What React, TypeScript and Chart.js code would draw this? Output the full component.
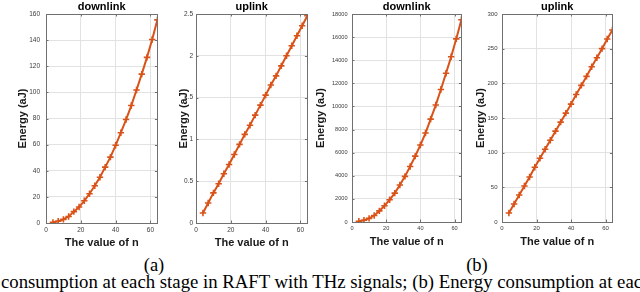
import React, { useEffect, useRef } from "react";
import { Chart, registerables } from "chart.js";

Chart.register(...registerables);

// ---- data ----
const nValues = [4, 7, 10, 13, 16, 19, 22, 25, 28, 31, 34, 37, 40, 43, 46, 49, 52, 55, 58, 61, 64];
const downlinkA = [0.5, 1.3, 2.8, 5, 8.7, 12.2, 17, 22.4, 28.5, 35, 42.8, 50.4, 59.5, 69.1, 79.2, 89.9, 101.8, 114, 126.8, 140.5, 155.5];
const uplinkA = [0.12, 0.24, 0.36, 0.47, 0.59, 0.7, 0.82, 0.94, 1.06, 1.17, 1.29, 1.41, 1.53, 1.65, 1.76, 1.88, 2.0, 2.12, 2.24, 2.36, 2.48];
const downlinkB = [60, 150, 310, 560, 960, 1400, 1920, 2500, 3200, 3950, 4800, 5700, 6660, 7700, 8900, 10120, 11470, 12870, 14300, 15850, 17500];
const uplinkB = [13, 26, 39, 52, 65, 79, 92, 105, 118, 131, 144, 157, 170, 184, 197, 210, 224, 237, 250, 264, 277];

const xTicks = [0, 20, 40, 60];
const yTicksDownA = [0, 20, 40, 60, 80, 100, 120, 140, 160];
const yTicksUpA = [0, 0.5, 1, 1.5, 2, 2.5];
const yTicksDownB = [0, 2000, 4000, 6000, 8000, 10000, 12000, 14000, 16000, 18000];
const yTicksUpB = [0, 50, 100, 150, 200, 250, 300];

const panelTitles = ["downlink", "uplink", "downlink", "uplink"];
const xTitle = "The value of n";
const yTitle = "Energy (aJ)";
const subLabels = ["(a)", "(b)"];
const caption = "consumption at each stage in RAFT with THz signals; (b) Energy consumption at each stage";

// ---- styles ----
const ORANGE = "#D95319";
const GRID = "#e2e2e2";
const AXIS = "#707070";
const SANS = '"Liberation Sans", Arial, Helvetica, sans-serif';
const SERIF = '"Liberation Serif", "Times New Roman", serif';
const CANVAS_H = 252;

type Panel = {
  title: string;
  values: number[];
  yTicks: number[];
  canvasLeft: number;
  width: number;
  yWidth: number;
  yPad: number;
  tickSize: number;
  plotBottom: number;
};

const panels: Panel[] = [
  { title: panelTitles[0], values: downlinkA, yTicks: yTicksDownA, canvasLeft: 16, width: 147, yWidth: 30, yPad: 6, tickSize: 6.5, plotBottom: 223 },
  { title: panelTitles[1], values: uplinkA, yTicks: yTicksUpA, canvasLeft: 177, width: 136, yWidth: 19, yPad: 3, tickSize: 6.5, plotBottom: 223 },
  { title: panelTitles[2], values: downlinkB, yTicks: yTicksDownB, canvasLeft: 314, width: 153, yWidth: 38, yPad: 4.5, tickSize: 5.6, plotBottom: 222 },
  { title: panelTitles[3], values: uplinkB, yTicks: yTicksUpB, canvasLeft: 474, width: 144, yWidth: 28, yPad: 4.5, tickSize: 6, plotBottom: 222 },
];

const X_H = 27;

function boxPlugin(title: string) {
  return {
    id: "matlabBox",
    afterDraw(chart: any) {
      const { ctx, chartArea } = chart;
      const { left, right, top, bottom } = chartArea;
      ctx.save();
      ctx.strokeStyle = AXIS;
      ctx.lineWidth = 1;
      ctx.strokeRect(Math.round(left) + 0.5, Math.round(top) + 0.5, Math.round(right - left), Math.round(bottom - top));
      // inward ticks
      const xs = chart.scales.x;
      const ys = chart.scales.y;
      const tl = 2.5;
      ctx.beginPath();
      xs.ticks.forEach((t: any) => {
        const px = Math.round(xs.getPixelForValue(t.value)) + 0.5;
        ctx.moveTo(px, bottom);
        ctx.lineTo(px, bottom - tl);
        ctx.moveTo(px, top);
        ctx.lineTo(px, top + tl);
      });
      ys.ticks.forEach((t: any) => {
        const py = Math.round(ys.getPixelForValue(t.value)) + 0.5;
        ctx.moveTo(left, py);
        ctx.lineTo(left + tl, py);
        ctx.moveTo(right, py);
        ctx.lineTo(right - tl, py);
      });
      ctx.stroke();
      // panel title
      ctx.fillStyle = "#000";
      ctx.font = `bold 11px ${SANS}`;
      ctx.textAlign = "center";
      ctx.textBaseline = "alphabetic";
      ctx.fillText(title, (left + right) / 2, 10);
      ctx.restore();
    },
  };
}

function PanelChart({ p }: { p: Panel }) {
  const ref = useRef<HTMLCanvasElement | null>(null);
  useEffect(() => {
    if (!ref.current) return;
    const tickFont = { family: SANS, size: p.tickSize };
    const chart = new Chart(ref.current, {
      type: "line",
      data: {
        datasets: [
          {
            data: nValues.map((n, i) => ({ x: n, y: p.values[i] })),
            borderColor: ORANGE,
            backgroundColor: ORANGE,
            borderWidth: 2,
            pointStyle: "cross",
            pointRadius: 3.2,
            pointBorderWidth: 1.6,
            pointBorderColor: ORANGE,
            fill: false,
            tension: 0,
          },
        ],
      },
      options: {
        responsive: false,
        animation: false,
        devicePixelRatio: 1,
        layout: { padding: { top: 14, left: 0, right: 3, bottom: CANVAS_H - p.plotBottom - X_H } },
        plugins: { legend: { display: false }, tooltip: { enabled: false }, title: { display: false } },
        scales: {
          x: {
            type: "linear",
            min: 0,
            max: 64,
            afterBuildTicks: (s: any) => {
              s.ticks = xTicks.map((v) => ({ value: v }));
            },
            afterFit: (s: any) => {
              s.height = X_H;
            },
            grid: { color: GRID, drawTicks: false, lineWidth: 1 },
            border: { display: false },
            ticks: { padding: 3, font: tickFont, color: "#3a3a3a", maxRotation: 0, autoSkip: false, callback: (v: any) => String(v) },
            title: { display: true, text: xTitle, font: { family: SANS, size: 11, weight: "bold" }, color: "#1a1a1a", padding: 0 },
          },
          y: {
            type: "linear",
            min: 0,
            max: p.yTicks[p.yTicks.length - 1],
            afterBuildTicks: (s: any) => {
              s.ticks = p.yTicks.map((v) => ({ value: v }));
            },
            afterFit: (s: any) => {
              s.width = p.yWidth;
            },
            grid: { color: GRID, drawTicks: false, lineWidth: 1 },
            border: { display: false },
            ticks: { padding: p.yPad, font: tickFont, color: "#3a3a3a", autoSkip: false, callback: (v: any) => String(v) },
            title: { display: true, text: yTitle, font: { family: SANS, size: 11, weight: "bold" }, color: "#1a1a1a", padding: 0 },
          },
        },
      } as any,
      plugins: [boxPlugin(p.title)],
    });
    return () => chart.destroy();
  }, [p]);
  return (
    <canvas
      ref={ref}
      width={p.width}
      height={CANVAS_H}
      style={{ position: "absolute", left: p.canvasLeft, top: 0, width: p.width, height: CANVAS_H }}
    />
  );
}

export default function App() {
  return (
    <div
      style={{
        position: "absolute",
        left: 0,
        top: 0,
        width: 640,
        height: 292,
        overflow: "hidden",
        background: "#fff",
      }}
    >
      {panels.map((p, i) => (
        <PanelChart key={i} p={p} />
      ))}
      {[154, 477].map((cx, i) => (
        <div
          key={i}
          style={{
            position: "absolute",
            left: cx - 50,
            width: 100,
            top: 256,
            textAlign: "center",
            fontFamily: SERIF,
            fontSize: 18.5,
            lineHeight: "18px",
            color: "#000",
          }}
        >
          {subLabels[i]}
        </div>
      ))}
      <div
        style={{
          position: "absolute",
          left: 1,
          top: 273,
          whiteSpace: "nowrap",
          fontFamily: SERIF,
          fontSize: 18.75,
          lineHeight: "18px",
          color: "#000",
        }}
      >
        {caption}
      </div>
    </div>
  );
}
